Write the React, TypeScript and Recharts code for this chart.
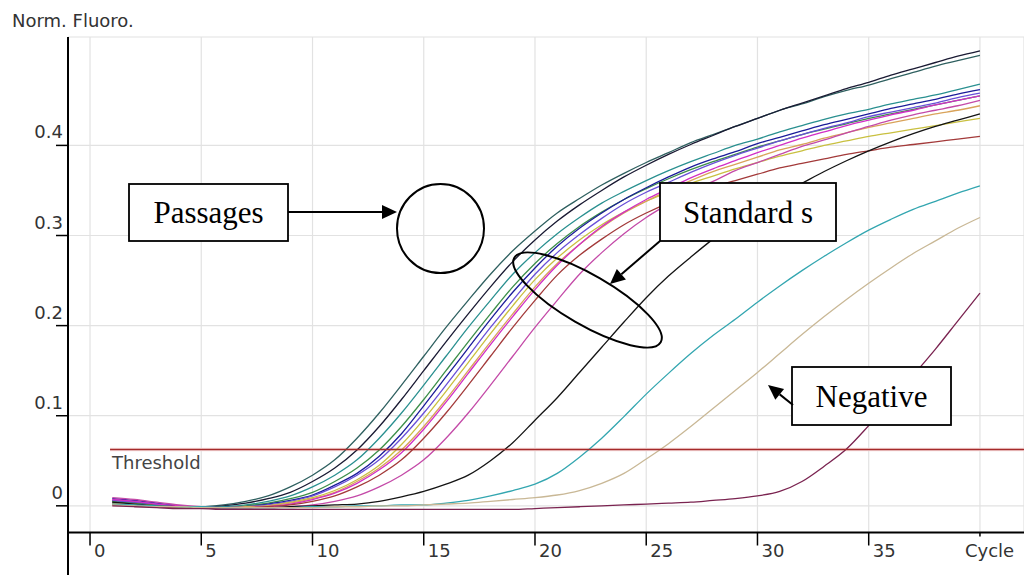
import React from 'react';
import { LineChart, Line, XAxis, YAxis, CartesianGrid, ReferenceLine } from 'recharts';

// amplification cycles
const cycles = [
  1, 2, 3, 4, 5, 6, 7, 8, 9, 10, 11, 12, 13, 14, 15, 16, 17, 18, 19, 20,
  21, 22, 23, 24, 25, 26, 27, 28, 29, 30, 31, 32, 33, 34, 35, 36, 37, 38, 39, 40,
];

// normalised fluorescence per sample
const sampleA = [
  0.006, 0.004, 0.002, 0.0, -0.001, 0.001, 0.005, 0.011, 0.021, 0.034,
  0.051, 0.075, 0.103, 0.134, 0.166, 0.198, 0.228, 0.257, 0.283, 0.305,
  0.325, 0.341, 0.356, 0.369, 0.381, 0.392, 0.403, 0.412, 0.421, 0.43,
  0.439, 0.446, 0.454, 0.461, 0.467, 0.474, 0.481, 0.488, 0.494, 0.5,
];
const sampleB = [
  0.004, 0.003, 0.001, -0.001, -0.002, 0.0, 0.003, 0.008, 0.015, 0.027,
  0.042, 0.062, 0.088, 0.118, 0.15, 0.182, 0.213, 0.243, 0.271, 0.295,
  0.316, 0.334, 0.35, 0.365, 0.378, 0.39, 0.401, 0.411, 0.421, 0.43,
  0.439, 0.447, 0.455, 0.463, 0.47, 0.478, 0.485, 0.492, 0.499, 0.505,
];
const sampleC = [
  0.003, 0.002, 0.0, -0.001, -0.002, -0.001, 0.001, 0.005, 0.011, 0.021,
  0.034, 0.051, 0.075, 0.103, 0.134, 0.166, 0.198, 0.228, 0.257, 0.281,
  0.302, 0.32, 0.336, 0.349, 0.361, 0.372, 0.382, 0.391, 0.4, 0.407,
  0.415, 0.422, 0.429, 0.435, 0.44, 0.446, 0.451, 0.456, 0.462, 0.468,
];
const sampleD = [
  0.005, 0.003, 0.001, -0.001, -0.002, -0.002, 0.0, 0.003, 0.008, 0.015,
  0.027, 0.042, 0.062, 0.088, 0.118, 0.15, 0.182, 0.213, 0.243, 0.269,
  0.291, 0.31, 0.326, 0.34, 0.352, 0.363, 0.373, 0.382, 0.39, 0.398,
  0.405, 0.412, 0.418, 0.424, 0.43, 0.435, 0.44, 0.445, 0.45, 0.455,
];
const sampleE = [
  0.008, 0.006, 0.003, 0.0, -0.002, -0.002, -0.001, 0.002, 0.006, 0.012,
  0.023, 0.036, 0.055, 0.08, 0.111, 0.143, 0.175, 0.207, 0.237, 0.264,
  0.288, 0.308, 0.325, 0.34, 0.353, 0.365, 0.376, 0.385, 0.393, 0.402,
  0.409, 0.416, 0.423, 0.429, 0.435, 0.441, 0.446, 0.451, 0.457, 0.462,
];
const sampleF = [
  0.006, 0.004, 0.002, 0.0, -0.002, -0.002, -0.001, 0.001, 0.005, 0.011,
  0.021, 0.034, 0.051, 0.075, 0.103, 0.134, 0.166, 0.198, 0.228, 0.257,
  0.281, 0.301, 0.319, 0.335, 0.348, 0.359, 0.37, 0.38, 0.389, 0.397,
  0.405, 0.412, 0.419, 0.425, 0.432, 0.437, 0.442, 0.447, 0.453, 0.458,
];
const sampleG = [
  0.002, 0.001, 0.0, -0.001, -0.002, -0.002, -0.002, 0.0, 0.004, 0.009,
  0.017, 0.029, 0.045, 0.068, 0.096, 0.127, 0.159, 0.191, 0.222, 0.251,
  0.275, 0.295, 0.312, 0.326, 0.338, 0.348, 0.358, 0.366, 0.374, 0.381,
  0.388, 0.394, 0.4, 0.405, 0.41, 0.414, 0.418, 0.422, 0.426, 0.43,
];
const sampleH = [
  0.003, 0.002, 0.0, -0.001, -0.002, -0.002, -0.001, 0.0, 0.003, 0.008,
  0.015, 0.027, 0.042, 0.062, 0.088, 0.118, 0.15, 0.182, 0.213, 0.243,
  0.269, 0.29, 0.309, 0.325, 0.338, 0.35, 0.361, 0.371, 0.379, 0.387,
  0.395, 0.401, 0.408, 0.414, 0.42, 0.425, 0.43, 0.435, 0.439, 0.444,
];
const sampleI = [
  0.007, 0.005, 0.002, 0.0, -0.002, -0.002, -0.002, -0.001, 0.002, 0.007,
  0.014, 0.025, 0.04, 0.059, 0.085, 0.115, 0.147, 0.179, 0.21, 0.24,
  0.267, 0.29, 0.31, 0.326, 0.34, 0.352, 0.364, 0.374, 0.383, 0.392,
  0.4, 0.408, 0.415, 0.422, 0.428, 0.434, 0.439, 0.445, 0.45, 0.455,
];
const sampleJ = [
  0.001, 0.0, -0.001, -0.002, -0.002, -0.002, -0.002, -0.001, 0.001, 0.005,
  0.011, 0.021, 0.034, 0.051, 0.075, 0.103, 0.134, 0.166, 0.198, 0.228,
  0.256, 0.278, 0.296, 0.312, 0.325, 0.336, 0.345, 0.354, 0.361, 0.368,
  0.375, 0.38, 0.385, 0.39, 0.394, 0.398, 0.401, 0.404, 0.407, 0.41,
];
const sampleK = [
  0.009, 0.007, 0.004, 0.001, -0.001, -0.002, -0.002, -0.002, -0.001, 0.001,
  0.005, 0.011, 0.021, 0.034, 0.051, 0.075, 0.103, 0.134, 0.166, 0.198,
  0.228, 0.257, 0.281, 0.302, 0.32, 0.335, 0.349, 0.36, 0.372, 0.381,
  0.39, 0.399, 0.406, 0.414, 0.421, 0.428, 0.434, 0.439, 0.444, 0.45,
];
const sampleL = [
  0.004, 0.002, 0.0, -0.001, -0.002, -0.002, -0.002, -0.002, -0.001, 0.0,
  0.001, 0.002, 0.005, 0.01, 0.016, 0.024, 0.034, 0.05, 0.07, 0.095,
  0.12, 0.148, 0.176, 0.204, 0.231, 0.255, 0.276, 0.296, 0.314, 0.33,
  0.345, 0.358, 0.371, 0.383, 0.394, 0.404, 0.413, 0.421, 0.428, 0.435,
];
const sampleM = [
  0.002, 0.001, 0.0, -0.001, -0.001, -0.002, -0.002, -0.002, -0.002, -0.001,
  -0.001, 0.0, 0.0, 0.001, 0.001, 0.003, 0.006, 0.011, 0.017, 0.024,
  0.036, 0.054, 0.075, 0.099, 0.124, 0.147, 0.169, 0.189, 0.207, 0.226,
  0.244, 0.261, 0.277, 0.292, 0.306, 0.318, 0.329, 0.338, 0.347, 0.355,
];
const sampleN = [
  0.001, 0.0, -0.001, -0.001, -0.002, -0.002, -0.002, -0.002, -0.002, -0.002,
  -0.001, -0.001, 0.0, 0.0, 0.001, 0.002, 0.003, 0.005, 0.007, 0.009,
  0.012, 0.017, 0.025, 0.036, 0.052, 0.069, 0.088, 0.108, 0.128, 0.148,
  0.169, 0.19, 0.21, 0.229, 0.247, 0.264, 0.28, 0.294, 0.308, 0.32,
];
const negative = [
  0.0, -0.001, -0.002, -0.003, -0.003, -0.004, -0.004, -0.004, -0.004, -0.004,
  -0.004, -0.004, -0.004, -0.004, -0.004, -0.004, -0.004, -0.004, -0.004, -0.003,
  -0.002, -0.001, 0.0, 0.001, 0.002, 0.003, 0.004, 0.006, 0.008, 0.011,
  0.016, 0.027, 0.044, 0.063, 0.089, 0.117, 0.145, 0.174, 0.205, 0.236,
];

const xTicks = [0, 5, 10, 15, 20, 25, 30, 35, 40];
const xTickLabels = ['0', '5', '10', '15', '20', '25', '30', '35', 'Cycle'];
const yTicks = [0, 0.1, 0.2, 0.3, 0.4];
const yTickLabels = ['0', '0.1', '0.2', '0.3', '0.4'];

const thresholdValue = 0.0625;
const thresholdStart = 0.9;

const xDomain = [-0.99, 41.98];
const yDomain = [-0.0296, 0.5203];

const series = [
  { key: 'a', color: '#2f6060', values: sampleA },
  { key: 'b', color: '#1a1a33', values: sampleB },
  { key: 'c', color: '#2a9090', values: sampleC },
  { key: 'd', color: '#3d8f4a', values: sampleD },
  { key: 'e', color: '#1c1c9a', values: sampleE },
  { key: 'f', color: '#6a50d8', values: sampleF },
  { key: 'g', color: '#c9c040', values: sampleG },
  { key: 'h', color: '#d9a35a', values: sampleH },
  { key: 'i', color: '#d22fc6', values: sampleI },
  { key: 'j', color: '#a33a3a', values: sampleJ },
  { key: 'k', color: '#c44aa8', values: sampleK },
  { key: 'l', color: '#141414', values: sampleL },
  { key: 'm', color: '#33a6b0', values: sampleM },
  { key: 'n', color: '#c9b896', values: sampleN },
  { key: 'o', color: '#7a2350', values: negative },
];

const data = cycles.map((cycle, i) => {
  const row: Record<string, number> = { cycle };
  series.forEach((s) => {
    row[s.key] = s.values[i];
  });
  return row;
});

const SANS = '"DejaVu Sans", Verdana, sans-serif';
const SERIF = '"Liberation Serif", "Times New Roman", serif';

const XTick = (props: any) => {
  const { x, y, payload } = props;
  const idx = xTicks.indexOf(payload.value);
  const isLast = idx === xTicks.length - 1;
  return (
    <g>
      <line x1={x} x2={x} y1={y} y2={y + (isLast ? 4 : 13)} stroke="#000" strokeWidth={1.5} />
      <text x={isLast ? x - 15 : x + 4} y={y + 24} fontSize={18} fill="#333" fontFamily={SANS}>
        {xTickLabels[idx]}
      </text>
    </g>
  );
};

const YTick = (props: any) => {
  const { x, y, payload } = props;
  const idx = yTicks.findIndex((t) => Math.abs(t - payload.value) < 1e-9);
  return (
    <g>
      <line x1={x - 12} x2={x} y1={y} y2={y} stroke="#000" strokeWidth={1.5} />
      <text x={x - 5} y={y - 7} textAnchor="end" fontSize={18} fill="#333" fontFamily={SANS}>
        {yTickLabels[idx]}
      </text>
    </g>
  );
};

// arrow with a filled head at (x2, y2)
const Arrow = ({ x1, y1, x2, y2 }: { x1: number; y1: number; x2: number; y2: number }) => {
  const len = Math.hypot(x2 - x1, y2 - y1);
  const ux = (x2 - x1) / len;
  const uy = (y2 - y1) / len;
  const head = 15;
  const half = 7;
  const bx = x2 - ux * head;
  const by = y2 - uy * head;
  const pts = `${x2},${y2} ${bx - uy * half},${by + ux * half} ${bx + uy * half},${by - ux * half}`;
  return (
    <g>
      <line x1={x1} y1={y1} x2={bx} y2={by} stroke="#000" strokeWidth={2} />
      <polygon points={pts} fill="#000" />
    </g>
  );
};

const Callout = ({ x, y, w, h, text, baseline }: any) => (
  <g>
    <rect x={x} y={y} width={w} height={h} fill="#fff" stroke="#000" strokeWidth={1.8} />
    <text x={x + w / 2} y={baseline} textAnchor="middle" fontSize={31} fontFamily={SERIF} fill="#000">
      {text}
    </text>
  </g>
);

export default function App() {
  return (
    <div style={{ position: 'absolute', left: 0, top: 0, width: 1024, height: 575, background: '#fff' }}>
      <LineChart width={1024} height={575} data={data} margin={{ top: 37, right: 0, bottom: 0, left: 0 }}>
        <CartesianGrid stroke="#e2e2e2" strokeWidth={1.2} />
        <XAxis
          dataKey="cycle"
          type="number"
          domain={xDomain}
          ticks={xTicks}
          allowDataOverflow
          height={42.5}
          tickSize={0}
          tickMargin={0}
          tickLine={false}
          axisLine={{ stroke: '#000', strokeWidth: 2 }}
          tick={<XTick />}
        />
        <YAxis
          type="number"
          domain={yDomain}
          ticks={yTicks}
          allowDataOverflow
          width={68}
          tickSize={0}
          tickMargin={0}
          tickLine={false}
          axisLine={{ stroke: '#000', strokeWidth: 2 }}
          tick={<YTick />}
        />
        <ReferenceLine
          segment={[{ x: thresholdStart, y: thresholdValue }, { x: xDomain[1], y: thresholdValue }]}
          stroke="#f8e0e0"
          strokeWidth={3.5}
        />
        {series.map((s) => (
          <Line
            key={s.key}
            dataKey={s.key}
            type="monotone"
            stroke={s.color}
            strokeWidth={1.3}
            dot={false}
            activeDot={false}
            isAnimationActive={false}
          />
        ))}
        <ReferenceLine
          segment={[{ x: thresholdStart, y: thresholdValue }, { x: xDomain[1], y: thresholdValue }]}
          stroke="#a52a2a"
          strokeWidth={1.4}
        />
      </LineChart>
      <svg
        width={1024}
        height={575}
        style={{ position: 'absolute', left: 0, top: 0, pointerEvents: 'none' }}
      >
        <line x1={68} y1={532} x2={68} y2={575} stroke="#000" strokeWidth={2} />
        <text x={12} y={27} fontSize={18} fill="#333" fontFamily={SANS}>
          Norm. Fluoro.
        </text>
        <text x={112} y={469} fontSize={18} fill="#444" fontFamily={SANS}>
          Threshold
        </text>

        <Callout x={129} y={184} w={159} h={57} text="Passages" baseline={223} />
        <Arrow x1={288} y1={212} x2={397} y2={212} />
        <ellipse cx={440.5} cy={228.5} rx={43.5} ry={44.5} fill="none" stroke="#000" strokeWidth={2} />

        <Callout x={660} y={183} w={176} h={58} text="Standard s" baseline={223} />
        <Arrow x1={660} y1={241} x2={610} y2={284} />
        <ellipse
          cx={587.5}
          cy={300}
          rx={84.5}
          ry={25}
          transform="rotate(30 587.5 300)"
          fill="none"
          stroke="#000"
          strokeWidth={2}
        />

        <Callout x={792} y={367} w={159} h={58} text="Negative" baseline={407} />
        <Arrow x1={793} y1={405} x2={768} y2={385} />
      </svg>
    </div>
  );
}
